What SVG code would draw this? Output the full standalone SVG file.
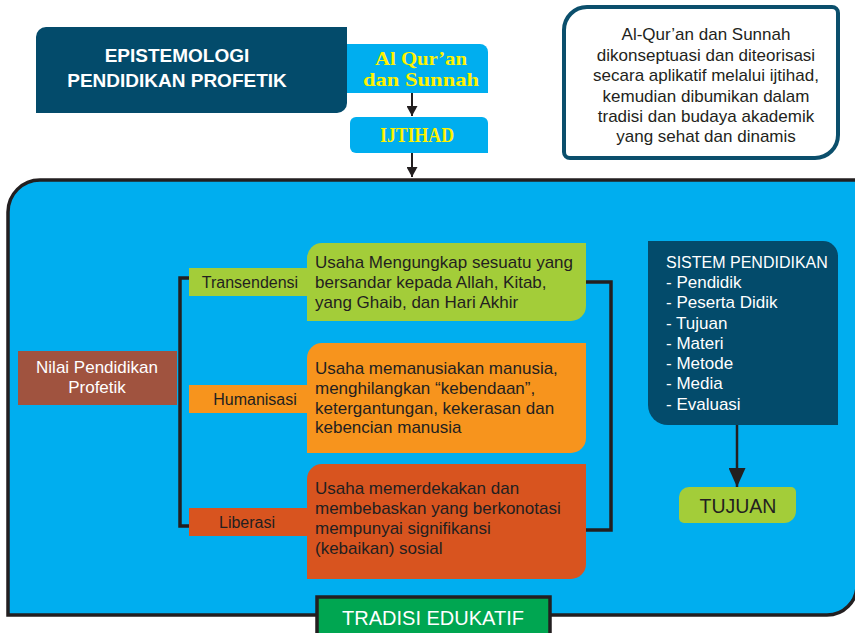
<svg xmlns="http://www.w3.org/2000/svg" width="855" height="633" viewBox="0 0 855 633">
<style>
.t{font-family:"Liberation Sans",Arial,sans-serif;fill:#231F20}
.w{fill:#FFFFFF}
.b{font-size:17px}
.lbl{font-size:16px;text-anchor:middle}
.c{text-anchor:middle}
.hd{font-family:"Liberation Sans",Arial,sans-serif;font-weight:bold;font-size:19px;fill:#FFFFFF;text-anchor:middle}
.yl{font-family:"Liberation Serif","Times New Roman",serif;font-weight:bold;fill:#FFF200;text-anchor:middle}
.ln{fill:none;stroke:#231F20;stroke-width:3.5;stroke-linejoin:miter}
.ar{fill:none;stroke:#231F20;stroke-width:2}
</style>
<defs>
<marker id="ah" markerUnits="userSpaceOnUse" markerWidth="10" markerHeight="11" refX="10" refY="5.5" orient="auto">
<path d="M0,0 L10,5.5 L0,11 z" fill="#231F20"/>
</marker>
<marker id="ahb" markerUnits="userSpaceOnUse" markerWidth="19" markerHeight="17" refX="19" refY="8.5" orient="auto">
<path d="M0,0 L19,8.5 L0,17 z" fill="#231F20"/>
</marker>
</defs>

<g id="container">
<path d="M8,615 V212 A32,32 0 0 1 40,180 H857 V585 A30,30 0 0 1 827,615 Z" fill="#00AEEF" stroke="#231F20" stroke-width="3.5"/>
</g>

<g id="connectors">
<line class="ar" x1="412" y1="93" x2="412" y2="116" marker-end="url(#ah)"/>
<line class="ar" x1="412" y1="153" x2="412" y2="177" marker-end="url(#ah)"/>
<line x1="737" y1="425" x2="737" y2="487" stroke="#231F20" stroke-width="2.5" marker-end="url(#ahb)"/>
<path class="ln" d="M190,278 H180 V526 H190"/>
<path class="ln" d="M586,282 H611 V530 H586"/>
</g>

<g id="epistemologi">
<path d="M46,27 H347 V103 A10,10 0 0 1 337,113 H36 V37 A10,10 0 0 1 46,27 Z" fill="#034B6B"/>
<text class="hd" x="177" y="62">EPISTEMOLOGI</text>
<text class="hd" x="177" y="87">PENDIDIKAN PROFETIK</text>
</g>

<g id="alquran">
<path d="M347,44 H480 A8,8 0 0 1 488,52 V93 H347 Z" fill="#00AEEF"/>
<text class="yl" x="421" y="65" font-size="19.5" textLength="92" lengthAdjust="spacingAndGlyphs">Al Qur’an</text>
<text class="yl" x="421" y="86" font-size="19.5" textLength="116" lengthAdjust="spacingAndGlyphs">dan Sunnah</text>
</g>

<g id="ijtihad">
<path d="M356,117 H482 A6,6 0 0 1 488,123 V153 H356 A6,6 0 0 1 350,147 V123 A6,6 0 0 1 356,117 Z" fill="#00AEEF"/>
<text class="yl" x="417" y="142" font-size="20" textLength="74" lengthAdjust="spacingAndGlyphs">IJTIHAD</text>
</g>

<g id="keterangan">
<path d="M587,7 H832 A6,6 0 0 1 838,13 V135 A23,23 0 0 1 815,158 H570 A6,6 0 0 1 564,152 V30 A23,23 0 0 1 587,7 Z" fill="#FFFFFF" stroke="#0B4F6C" stroke-width="4"/>
<text class="t b c" x="706" y="40">Al-Qur’an dan Sunnah</text>
<text class="t b c" x="706" y="60.5">dikonseptuasi dan diteorisasi</text>
<text class="t b c" x="706" y="81">secara aplikatif melalui ijtihad,</text>
<text class="t b c" x="706" y="101.5">kemudian dibumikan dalam</text>
<text class="t b c" x="706" y="122">tradisi dan budaya akademik</text>
<text class="t b c" x="706" y="142">yang sehat dan dinamis</text>
</g>

<g id="nilai">
<rect x="18" y="351" width="159" height="54" fill="#A0533F"/>
<text class="t w b c" x="97" y="373">Nilai Pendidikan</text>
<text class="t w b c" x="97" y="393">Profetik</text>
</g>

<g id="transendensi">
<rect x="189" y="268" width="125" height="28" fill="#A3CD39"/>
<path d="M322,243 H586 V306 A15,15 0 0 1 571,321 H307 V258 A15,15 0 0 1 322,243 Z" fill="#A3CD39"/>
<text class="t lbl" x="250" y="288">Transendensi</text>
<text class="t b" x="315" y="268">Usaha Mengungkap sesuatu yang</text>
<text class="t b" x="315" y="288">bersandar kepada Allah, Kitab,</text>
<text class="t b" x="315" y="308">yang Ghaib, dan Hari Akhir</text>
</g>

<g id="humanisasi">
<rect x="189" y="385" width="125" height="28" fill="#F7941D"/>
<path d="M322,343 H586 V438 A15,15 0 0 1 571,453 H307 V358 A15,15 0 0 1 322,343 Z" fill="#F7941D"/>
<text class="t lbl" x="255" y="405">Humanisasi</text>
<text class="t b" x="315" y="374">Usaha memanusiakan manusia,</text>
<text class="t b" x="315" y="394">menghilangkan “kebendaan”,</text>
<text class="t b" x="315" y="413.5">ketergantungan, kekerasan dan</text>
<text class="t b" x="315" y="433">kebencian manusia</text>
</g>

<g id="liberasi">
<rect x="189" y="508" width="125" height="28" fill="#D8541F"/>
<path d="M322,464 H586 V564 A15,15 0 0 1 571,579 H307 V479 A15,15 0 0 1 322,464 Z" fill="#D8541F"/>
<text class="t lbl" x="247" y="528">Liberasi</text>
<text class="t b" x="315" y="494">Usaha memerdekakan dan</text>
<text class="t b" x="315" y="514">membebaskan yang berkonotasi</text>
<text class="t b" x="315" y="534">mempunyai signifikansi</text>
<text class="t b" x="315" y="554">(kebaikan) sosial</text>
</g>

<g id="sistem">
<path d="M648,241 H823 A15,15 0 0 1 838,256 V425 H668 A20,20 0 0 1 648,405 Z" fill="#034B6B"/>
<text class="t w" x="666" y="268" font-size="16">SISTEM PENDIDIKAN</text>
<text class="t w b" x="666" y="288">- Pendidik</text>
<text class="t w b" x="666" y="308">- Peserta Didik</text>
<text class="t w b" x="666" y="329">- Tujuan</text>
<text class="t w b" x="666" y="349">- Materi</text>
<text class="t w b" x="666" y="369">- Metode</text>
<text class="t w b" x="666" y="389">- Media</text>
<text class="t w b" x="666" y="410">- Evaluasi</text>
</g>

<g id="tujuan">
<path d="M689,487 H791 A5,5 0 0 1 796,492 V511 A12,12 0 0 1 784,523 H684 A5,5 0 0 1 679,518 V497 A10,10 0 0 1 689,487 Z" fill="#A3CD39"/>
<text class="t c" x="738" y="513" font-size="19.5">TUJUAN</text>
</g>

<g id="tradisi">
<rect x="317" y="597" width="233" height="50" fill="#00A651" stroke="#231F20" stroke-width="3.5"/>
<text class="t w c" x="433" y="625" font-size="20">TRADISI EDUKATIF</text>
</g>
</svg>
